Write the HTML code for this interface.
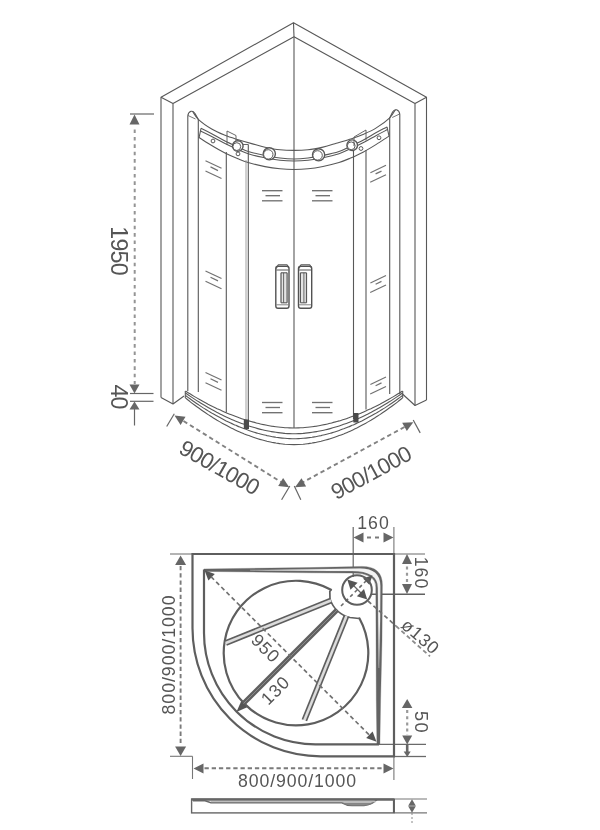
<!DOCTYPE html>
<html><head><meta charset="utf-8"><title>Shower enclosure drawing</title>
<style>
html,body{margin:0;padding:0;background:#fff;}
svg{display:block;font-family:"Liberation Sans",sans-serif;filter:blur(0.45px);}
</style></head><body>
<svg width="600" height="830" viewBox="0 0 600 830">
<rect width="600" height="830" fill="#fff"/>
<polyline points="161.0,397.5 161.0,97.3 293.5,22.7 426.5,97.3 426.5,400.0" fill="none" stroke="#585858" stroke-width="1.1" stroke-linejoin="round" />
<polyline points="173.0,404.0 173.0,103.5 294.0,36.7 415.0,103.5 415.0,405.5" fill="none" stroke="#585858" stroke-width="1.1" stroke-linejoin="round" />
<line x1="161" y1="97.3" x2="173" y2="103.5" stroke="#585858" stroke-width="1.1" />
<line x1="426.5" y1="97.3" x2="415" y2="103.5" stroke="#585858" stroke-width="1.1" />
<line x1="293.5" y1="22.7" x2="294" y2="36.7" stroke="#585858" stroke-width="1.1" />
<polyline points="161.0,397.5 173.0,404.0 184.0,396.0" fill="none" stroke="#585858" stroke-width="1.1" stroke-linejoin="round" />
<polyline points="426.5,400.0 415.0,405.5 402.5,394.0" fill="none" stroke="#585858" stroke-width="1.1" stroke-linejoin="round" />
<line x1="294" y1="36.7" x2="294" y2="428" stroke="#585858" stroke-width="1.1" />
<path d="M187.8,391 L187.8,116 Q188,112.5 191,111.3 Q193.5,110.8 195,113.5 L198.3,119.5 L198.3,392" fill="none" stroke="#585858" stroke-width="1.1" />
<path d="M399.8,394 L399.8,114.5 Q399.6,111 396.6,109.8 Q394.1,109.3 392.6,112 L389.7,118 L389.7,394" fill="none" stroke="#585858" stroke-width="1.1" />
<polyline points="188.0,115.5 195.5,119.0" fill="none" stroke="#585858" stroke-width="0.8" stroke-linejoin="round" />
<polyline points="399.6,114.0 392.2,117.5" fill="none" stroke="#585858" stroke-width="0.8" stroke-linejoin="round" />
<path d="M192.5,111.2 C193.5,112.5 195.1,116.3 198.3,119.3 C201.5,122.3 207.2,126.3 211.7,129.0 C216.1,131.7 220.6,133.5 225.0,135.3 C229.4,137.1 233.9,138.4 238.3,139.8 C242.8,141.2 247.2,142.4 251.7,143.6 C256.1,144.8 260.3,146.2 265.0,147.2 C269.7,148.2 275.2,149.3 280.0,149.8 C284.8,150.3 289.3,150.4 294.0,150.4 C298.7,150.4 303.2,150.3 308.0,149.8 C312.8,149.2 318.3,148.1 323.0,147.1 C327.7,146.0 331.9,144.6 336.3,143.3 C340.8,142.0 345.2,140.8 349.7,139.3 C354.1,137.8 358.6,136.4 363.0,134.5 C367.4,132.6 371.9,130.7 376.3,127.9 C380.8,125.1 386.5,120.9 389.7,117.8 C392.9,114.8 394.5,110.9 395.5,109.6" fill="none" stroke="#585858" stroke-width="1.1" />
<path d="M201.0,128.3 C202.8,129.2 207.7,131.6 211.7,133.7 C215.7,135.8 220.6,138.8 225.0,141.0 C229.4,143.2 234.0,145.2 238.0,147.0 C242.0,148.8 244.5,150.3 249.0,151.7 C253.5,153.1 259.8,154.4 265.0,155.5 C270.2,156.6 275.2,157.4 280.0,158.0 C284.8,158.6 289.3,159.0 294.0,159.0 C298.7,159.0 303.2,158.6 308.0,158.0 C312.8,157.4 317.8,156.5 323.0,155.4 C328.2,154.3 334.5,152.9 339.0,151.4 C343.5,149.9 346.0,148.4 350.0,146.5 C354.0,144.6 358.6,142.6 363.0,140.2 C367.4,137.9 372.3,134.8 376.3,132.6 C380.3,130.4 385.2,127.9 387.0,126.9" fill="none" stroke="#585858" stroke-width="1.1" />
<path d="M200.5,131.0 C202.4,131.9 207.6,134.4 211.7,136.5 C215.8,138.6 220.6,141.3 225.0,143.5 C229.4,145.7 234.0,147.8 238.0,149.5 C242.0,151.2 244.5,152.6 249.0,154.0 C253.5,155.4 259.8,156.8 265.0,157.8 C270.2,158.9 275.2,159.8 280.0,160.3 C284.8,160.8 289.3,161.0 294.0,161.0 C298.7,161.0 303.2,160.8 308.0,160.3 C312.8,159.7 317.8,158.8 323.0,157.7 C328.2,156.6 334.5,155.1 339.0,153.7 C343.5,152.2 346.0,150.8 350.0,149.0 C354.0,147.2 358.6,145.0 363.0,142.7 C367.4,140.5 372.2,137.6 376.3,135.4 C380.4,133.2 385.6,130.6 387.5,129.6" fill="none" stroke="#585858" stroke-width="1.1" />
<path d="M199.0,137.5 C201.1,138.8 207.4,142.9 211.7,145.5 C216.0,148.1 220.6,150.8 225.0,153.0 C229.4,155.2 234.0,157.2 238.0,158.8 C242.0,160.4 244.5,161.5 249.0,162.8 C253.5,164.1 259.8,165.6 265.0,166.6 C270.2,167.6 275.2,168.3 280.0,168.8 C284.8,169.3 289.3,169.5 294.0,169.5 C298.7,169.5 303.2,169.3 308.0,168.8 C312.8,168.3 317.8,167.5 323.0,166.5 C328.2,165.4 334.5,163.8 339.0,162.5 C343.5,161.1 346.0,160.0 350.0,158.3 C354.0,156.6 358.6,154.6 363.0,152.2 C367.4,149.9 372.0,147.1 376.3,144.4 C380.6,141.7 386.9,137.4 389.0,136.1" fill="none" stroke="#585858" stroke-width="1.1" />
<line x1="201" y1="128.3" x2="199" y2="138" stroke="#585858" stroke-width="1.1" />
<line x1="387" y1="126.9" x2="389" y2="136" stroke="#585858" stroke-width="1.1" />
<circle cx="269.3" cy="153.8" r="6.1" fill="#fff" stroke="#585858" stroke-width="1.4"/>
<circle cx="268.3" cy="154.4" r="4.699999999999999" fill="#fff" stroke="#585858" stroke-width="1.0"/>
<circle cx="318.6" cy="154.8" r="6.1" fill="#fff" stroke="#585858" stroke-width="1.4"/>
<circle cx="317.6" cy="155.4" r="4.699999999999999" fill="#fff" stroke="#585858" stroke-width="1.0"/>
<circle cx="237.8" cy="146" r="5.3" fill="#fff" stroke="#585858" stroke-width="1.4"/>
<circle cx="236.8" cy="146.6" r="3.9" fill="#fff" stroke="#585858" stroke-width="1.0"/>
<circle cx="352.2" cy="145.2" r="5.3" fill="#fff" stroke="#585858" stroke-width="1.4"/>
<circle cx="351.2" cy="145.79999999999998" r="3.9" fill="#fff" stroke="#585858" stroke-width="1.0"/>
<circle cx="238" cy="153.9" r="1.9" fill="#fff" stroke="#585858" stroke-width="1.0"/>
<circle cx="361" cy="148.5" r="1.9" fill="#fff" stroke="#585858" stroke-width="1.0"/>
<circle cx="213" cy="141" r="1.9" fill="#fff" stroke="#585858" stroke-width="1.0"/>
<circle cx="379" cy="137.8" r="1.9" fill="#fff" stroke="#585858" stroke-width="1.0"/>
<polyline points="227.0,145.0 227.0,131.0 236.0,135.5 236.0,141.0" fill="none" stroke="#585858" stroke-width="0.9" stroke-linejoin="round" />
<polyline points="354.0,146.0 354.0,137.0 366.0,130.0 366.0,140.5" fill="none" stroke="#585858" stroke-width="0.9" stroke-linejoin="round" />
<line x1="243" y1="144.5" x2="248.3" y2="144.5" stroke="#585858" stroke-width="0.9" />
<line x1="226.3" y1="152" x2="226.3" y2="412.5" stroke="#585858" stroke-width="1.1" />
<line x1="248.3" y1="144.5" x2="248.3" y2="425" stroke="#585858" stroke-width="1.1" />
<line x1="246" y1="160" x2="246" y2="424" stroke="#8a8a8a" stroke-width="0.8" />
<line x1="366" y1="150" x2="366" y2="409.5" stroke="#585858" stroke-width="1.1" />
<line x1="353.5" y1="150" x2="353.5" y2="419" stroke="#585858" stroke-width="1.1" />
<path d="M185.5,391.0 C186.3,391.5 188.5,392.9 190.0,393.8 C191.5,394.8 193.0,395.7 194.5,396.6 C196.0,397.5 197.6,398.4 199.1,399.2 C200.6,400.1 202.1,400.9 203.6,401.7 C205.1,402.6 206.6,403.4 208.1,404.2 C209.6,404.9 211.1,405.7 212.6,406.5 C214.1,407.2 215.6,407.9 217.1,408.7 C218.7,409.4 220.2,410.1 221.7,410.7 C223.2,411.4 224.7,412.1 226.2,412.7 C227.7,413.3 229.2,414.0 230.7,414.6 C232.2,415.2 233.7,415.8 235.2,416.3 C236.7,416.9 238.2,417.4 239.8,417.9 C241.3,418.5 242.8,419.0 244.3,419.5 C245.8,420.0 247.3,420.4 248.8,420.9 C250.3,421.3 251.8,421.7 253.3,422.1 C254.8,422.6 256.3,422.9 257.8,423.3 C259.3,423.7 260.8,424.0 262.4,424.4 C263.9,424.7 265.4,425.0 266.9,425.3 C268.4,425.6 269.9,425.8 271.4,426.1 C272.9,426.3 274.4,426.5 275.9,426.7 C277.4,426.9 278.9,427.1 280.4,427.3 C281.9,427.4 283.5,427.5 285.0,427.7 C286.5,427.8 288.0,427.8 289.5,427.9 C291.0,428.0 292.5,428.0 294.0,428.0 C295.5,428.0 297.0,428.0 298.5,427.9 C300.0,427.8 301.5,427.8 303.0,427.7 C304.5,427.5 306.1,427.4 307.6,427.3 C309.1,427.1 310.6,426.9 312.1,426.7 C313.6,426.5 315.1,426.3 316.6,426.1 C318.1,425.8 319.6,425.6 321.1,425.3 C322.6,425.0 324.1,424.7 325.6,424.4 C327.2,424.0 328.7,423.7 330.2,423.3 C331.7,422.9 333.2,422.6 334.7,422.1 C336.2,421.7 337.7,421.3 339.2,420.9 C340.7,420.4 342.2,420.0 343.7,419.5 C345.2,419.0 346.7,418.5 348.2,417.9 C349.8,417.4 351.3,416.9 352.8,416.3 C354.3,415.8 355.8,415.2 357.3,414.6 C358.8,414.0 360.3,413.3 361.8,412.7 C363.3,412.1 364.8,411.4 366.3,410.7 C367.8,410.1 369.3,409.4 370.9,408.7 C372.4,407.9 373.9,407.2 375.4,406.5 C376.9,405.7 378.4,404.9 379.9,404.2 C381.4,403.4 382.9,402.6 384.4,401.7 C385.9,400.9 387.4,400.1 388.9,399.2 C390.4,398.4 392.0,397.5 393.5,396.6 C395.0,395.7 396.5,394.8 398.0,393.8 C399.5,392.9 401.7,391.5 402.5,391.0" fill="none" stroke="#585858" stroke-width="1.1" />
<path d="M185.5,393.0 C186.3,393.5 188.5,395.1 190.0,396.1 C191.5,397.2 193.0,398.2 194.5,399.1 C196.0,400.1 197.6,401.1 199.1,402.0 C200.6,403.0 202.1,403.9 203.6,404.8 C205.1,405.7 206.6,406.6 208.1,407.5 C209.6,408.4 211.1,409.2 212.6,410.0 C214.1,410.8 215.6,411.7 217.1,412.4 C218.7,413.2 220.2,414.0 221.7,414.7 C223.2,415.5 224.7,416.2 226.2,416.9 C227.7,417.6 229.2,418.3 230.7,419.0 C232.2,419.6 233.7,420.3 235.2,420.9 C236.7,421.5 238.2,422.1 239.8,422.7 C241.3,423.3 242.8,423.8 244.3,424.3 C245.8,424.9 247.3,425.4 248.8,425.9 C250.3,426.4 251.8,426.9 253.3,427.3 C254.8,427.8 256.3,428.2 257.8,428.6 C259.3,429.0 260.8,429.4 262.4,429.7 C263.9,430.1 265.4,430.4 266.9,430.7 C268.4,431.1 269.9,431.3 271.4,431.6 C272.9,431.9 274.4,432.1 275.9,432.3 C277.4,432.6 278.9,432.8 280.4,432.9 C281.9,433.1 283.5,433.2 285.0,433.4 C286.5,433.5 288.0,433.6 289.5,433.6 C291.0,433.7 292.5,433.8 294.0,433.8 C295.5,433.8 297.0,433.7 298.5,433.6 C300.0,433.6 301.5,433.5 303.0,433.4 C304.5,433.2 306.1,433.1 307.6,432.9 C309.1,432.8 310.6,432.6 312.1,432.3 C313.6,432.1 315.1,431.9 316.6,431.6 C318.1,431.3 319.6,431.1 321.1,430.7 C322.6,430.4 324.1,430.1 325.6,429.7 C327.2,429.4 328.7,429.0 330.2,428.6 C331.7,428.2 333.2,427.8 334.7,427.3 C336.2,426.9 337.7,426.4 339.2,425.9 C340.7,425.4 342.2,424.9 343.7,424.3 C345.2,423.8 346.7,423.3 348.2,422.7 C349.8,422.1 351.3,421.5 352.8,420.9 C354.3,420.3 355.8,419.6 357.3,419.0 C358.8,418.3 360.3,417.6 361.8,416.9 C363.3,416.2 364.8,415.5 366.3,414.7 C367.8,414.0 369.3,413.2 370.9,412.4 C372.4,411.7 373.9,410.8 375.4,410.0 C376.9,409.2 378.4,408.4 379.9,407.5 C381.4,406.6 382.9,405.7 384.4,404.8 C385.9,403.9 387.4,403.0 388.9,402.0 C390.4,401.1 392.0,400.1 393.5,399.1 C395.0,398.2 396.5,397.2 398.0,396.1 C399.5,395.1 401.7,393.5 402.5,393.0" fill="none" stroke="#585858" stroke-width="1.1" />
<path d="M185.5,395.5 C186.3,396.1 188.5,397.7 190.0,398.8 C191.5,399.9 193.0,401.0 194.5,402.0 C196.0,403.1 197.6,404.1 199.1,405.1 C200.6,406.1 202.1,407.1 203.6,408.1 C205.1,409.0 206.6,410.0 208.1,410.9 C209.6,411.8 211.1,412.7 212.6,413.6 C214.1,414.4 215.6,415.3 217.1,416.1 C218.7,417.0 220.2,417.8 221.7,418.6 C223.2,419.4 224.7,420.1 226.2,420.9 C227.7,421.6 229.2,422.3 230.7,423.0 C232.2,423.8 233.7,424.4 235.2,425.1 C236.7,425.7 238.2,426.4 239.8,427.0 C241.3,427.6 242.8,428.2 244.3,428.8 C245.8,429.3 247.3,429.9 248.8,430.4 C250.3,430.9 251.8,431.4 253.3,431.9 C254.8,432.4 256.3,432.8 257.8,433.3 C259.3,433.7 260.8,434.1 262.4,434.5 C263.9,434.9 265.4,435.2 266.9,435.6 C268.4,435.9 269.9,436.2 271.4,436.5 C272.9,436.8 274.4,437.0 275.9,437.3 C277.4,437.5 278.9,437.7 280.4,437.9 C281.9,438.1 283.5,438.2 285.0,438.3 C286.5,438.5 288.0,438.6 289.5,438.6 C291.0,438.7 292.5,438.8 294.0,438.8 C295.5,438.8 297.0,438.7 298.5,438.6 C300.0,438.6 301.5,438.5 303.0,438.3 C304.5,438.2 306.1,438.1 307.6,437.9 C309.1,437.7 310.6,437.5 312.1,437.3 C313.6,437.0 315.1,436.8 316.6,436.5 C318.1,436.2 319.6,435.9 321.1,435.6 C322.6,435.2 324.1,434.9 325.6,434.5 C327.2,434.1 328.7,433.7 330.2,433.3 C331.7,432.8 333.2,432.4 334.7,431.9 C336.2,431.4 337.7,430.9 339.2,430.4 C340.7,429.9 342.2,429.3 343.7,428.8 C345.2,428.2 346.7,427.6 348.2,427.0 C349.8,426.4 351.3,425.7 352.8,425.1 C354.3,424.4 355.8,423.8 357.3,423.0 C358.8,422.3 360.3,421.6 361.8,420.9 C363.3,420.1 364.8,419.4 366.3,418.6 C367.8,417.8 369.3,417.0 370.9,416.1 C372.4,415.3 373.9,414.4 375.4,413.6 C376.9,412.7 378.4,411.8 379.9,410.9 C381.4,410.0 382.9,409.0 384.4,408.1 C385.9,407.1 387.4,406.1 388.9,405.1 C390.4,404.1 392.0,403.1 393.5,402.0 C395.0,401.0 396.5,399.9 398.0,398.8 C399.5,397.7 401.7,396.1 402.5,395.5" fill="none" stroke="#585858" stroke-width="1.1" />
<path d="M185.5,398.0 C186.3,398.6 188.5,400.4 190.0,401.6 C191.5,402.8 193.0,403.9 194.5,405.0 C196.0,406.2 197.6,407.3 199.1,408.3 C200.6,409.4 202.1,410.5 203.6,411.5 C205.1,412.6 206.6,413.6 208.1,414.6 C209.6,415.6 211.1,416.5 212.6,417.5 C214.1,418.4 215.6,419.3 217.1,420.2 C218.7,421.1 220.2,422.0 221.7,422.9 C223.2,423.7 224.7,424.5 226.2,425.3 C227.7,426.1 229.2,426.9 230.7,427.7 C232.2,428.4 233.7,429.2 235.2,429.9 C236.7,430.6 238.2,431.3 239.8,431.9 C241.3,432.6 242.8,433.2 244.3,433.9 C245.8,434.5 247.3,435.1 248.8,435.6 C250.3,436.2 251.8,436.7 253.3,437.2 C254.8,437.7 256.3,438.2 257.8,438.7 C259.3,439.2 260.8,439.6 262.4,440.0 C263.9,440.4 265.4,440.8 266.9,441.2 C268.4,441.5 269.9,441.9 271.4,442.2 C272.9,442.5 274.4,442.7 275.9,443.0 C277.4,443.2 278.9,443.5 280.4,443.7 C281.9,443.9 283.5,444.0 285.0,444.2 C286.5,444.3 288.0,444.4 289.5,444.5 C291.0,444.6 292.5,444.6 294.0,444.6 C295.5,444.6 297.0,444.6 298.5,444.5 C300.0,444.4 301.5,444.3 303.0,444.2 C304.5,444.0 306.1,443.9 307.6,443.7 C309.1,443.5 310.6,443.2 312.1,443.0 C313.6,442.7 315.1,442.5 316.6,442.2 C318.1,441.9 319.6,441.5 321.1,441.2 C322.6,440.8 324.1,440.4 325.6,440.0 C327.2,439.6 328.7,439.2 330.2,438.7 C331.7,438.2 333.2,437.7 334.7,437.2 C336.2,436.7 337.7,436.2 339.2,435.6 C340.7,435.1 342.2,434.5 343.7,433.9 C345.2,433.2 346.7,432.6 348.2,431.9 C349.8,431.3 351.3,430.6 352.8,429.9 C354.3,429.2 355.8,428.4 357.3,427.7 C358.8,426.9 360.3,426.1 361.8,425.3 C363.3,424.5 364.8,423.7 366.3,422.9 C367.8,422.0 369.3,421.1 370.9,420.2 C372.4,419.3 373.9,418.4 375.4,417.5 C376.9,416.5 378.4,415.6 379.9,414.6 C381.4,413.6 382.9,412.6 384.4,411.5 C385.9,410.5 387.4,409.4 388.9,408.3 C390.4,407.3 392.0,406.2 393.5,405.0 C395.0,403.9 396.5,402.8 398.0,401.6 C399.5,400.4 401.7,398.6 402.5,398.0" fill="none" stroke="#585858" stroke-width="1.1" />
<line x1="185.3" y1="391" x2="185.3" y2="398" stroke="#585858" stroke-width="1.1" />
<line x1="402.7" y1="391" x2="402.7" y2="398" stroke="#585858" stroke-width="1.1" />
<rect x="243.8" y="419.5" width="5.2" height="9.5" fill="#4a4a4a"/>
<rect x="353.3" y="413" width="5.2" height="9.5" fill="#4a4a4a"/>
<rect x="275.8" y="266.3" width="13.2" height="42" rx="2.2" fill="#fff" stroke="#525252" stroke-width="1.4"/>
<polyline points="276.1,268.5 278.3,264.8 287.0,264.8 288.8,267.5" fill="none" stroke="#585858" stroke-width="1.1" stroke-linejoin="round" />
<line x1="276.3" y1="270" x2="288.5" y2="270" stroke="#585858" stroke-width="1.0" />
<rect x="281.0" y="272.8" width="6.1000000000000005" height="30" fill="#e4e4e4" stroke="none"/>
<line x1="281.0" y1="272.8" x2="281.0" y2="302.8" stroke="#585858" stroke-width="1.2" />
<line x1="283.6" y1="272.8" x2="283.6" y2="302.8" stroke="#585858" stroke-width="0.9" />
<line x1="287.1" y1="272.8" x2="287.1" y2="302.8" stroke="#585858" stroke-width="1.2" />
<line x1="281.0" y1="272.8" x2="287.1" y2="272.8" stroke="#585858" stroke-width="1.1" />
<line x1="281.0" y1="302.8" x2="287.1" y2="302.8" stroke="#585858" stroke-width="1.1" />
<line x1="276.3" y1="304.8" x2="288.5" y2="304.8" stroke="#777" stroke-width="0.9" />
<rect x="298.5" y="266.3" width="13.2" height="42" rx="2.2" fill="#fff" stroke="#525252" stroke-width="1.4"/>
<polyline points="298.8,268.5 301.0,264.8 309.7,264.8 311.5,267.5" fill="none" stroke="#585858" stroke-width="1.1" stroke-linejoin="round" />
<line x1="299.0" y1="270" x2="311.2" y2="270" stroke="#585858" stroke-width="1.0" />
<rect x="300.4" y="272.8" width="6.1000000000000005" height="30" fill="#e4e4e4" stroke="none"/>
<line x1="306.5" y1="272.8" x2="306.5" y2="302.8" stroke="#585858" stroke-width="1.2" />
<line x1="303.9" y1="272.8" x2="303.9" y2="302.8" stroke="#585858" stroke-width="0.9" />
<line x1="300.4" y1="272.8" x2="300.4" y2="302.8" stroke="#585858" stroke-width="1.2" />
<line x1="300.4" y1="272.8" x2="306.5" y2="272.8" stroke="#585858" stroke-width="1.1" />
<line x1="300.4" y1="302.8" x2="306.5" y2="302.8" stroke="#585858" stroke-width="1.1" />
<line x1="299.0" y1="304.8" x2="311.2" y2="304.8" stroke="#777" stroke-width="0.9" />
<line x1="262" y1="190.7" x2="282.5" y2="190.7" stroke="#727272" stroke-width="1.35" />
<line x1="265.5" y1="195.7" x2="280.0" y2="195.7" stroke="#727272" stroke-width="1.35" />
<line x1="262" y1="200.8" x2="282.5" y2="200.8" stroke="#727272" stroke-width="1.35" />
<line x1="312" y1="190.7" x2="332.5" y2="190.7" stroke="#727272" stroke-width="1.35" />
<line x1="315.5" y1="195.7" x2="330.0" y2="195.7" stroke="#727272" stroke-width="1.35" />
<line x1="312" y1="200.8" x2="332.5" y2="200.8" stroke="#727272" stroke-width="1.35" />
<line x1="262" y1="402.5" x2="282.5" y2="402.5" stroke="#727272" stroke-width="1.35" />
<line x1="265.5" y1="407.5" x2="280.0" y2="407.5" stroke="#727272" stroke-width="1.35" />
<line x1="262" y1="412.7" x2="282.5" y2="412.7" stroke="#727272" stroke-width="1.35" />
<line x1="312" y1="402.5" x2="332.5" y2="402.5" stroke="#727272" stroke-width="1.35" />
<line x1="315.5" y1="407.5" x2="330.0" y2="407.5" stroke="#727272" stroke-width="1.35" />
<line x1="312" y1="412.7" x2="332.5" y2="412.7" stroke="#727272" stroke-width="1.35" />
<line x1="205.5" y1="160.7" x2="221.5" y2="168.2" stroke="#727272" stroke-width="1.2" />
<line x1="210.5" y1="166.89999999999998" x2="218" y2="170.6" stroke="#727272" stroke-width="1.2" />
<line x1="205.5" y1="171.0" x2="221.5" y2="178.5" stroke="#727272" stroke-width="1.2" />
<line x1="370.4" y1="172.7" x2="386" y2="165.2" stroke="#727272" stroke-width="1.2" />
<line x1="375.6" y1="173.89999999999998" x2="381.5" y2="171.1" stroke="#727272" stroke-width="1.2" />
<line x1="370.2" y1="182.2" x2="386" y2="174.7" stroke="#727272" stroke-width="1.2" />
<line x1="205.5" y1="271" x2="221.5" y2="278.5" stroke="#727272" stroke-width="1.2" />
<line x1="210.5" y1="277.2" x2="218" y2="280.9" stroke="#727272" stroke-width="1.2" />
<line x1="205.5" y1="281.3" x2="221.5" y2="288.8" stroke="#727272" stroke-width="1.2" />
<line x1="370.4" y1="283" x2="386" y2="275.5" stroke="#727272" stroke-width="1.2" />
<line x1="375.6" y1="284.2" x2="381.5" y2="281.4" stroke="#727272" stroke-width="1.2" />
<line x1="370.2" y1="292.5" x2="386" y2="285" stroke="#727272" stroke-width="1.2" />
<line x1="205.5" y1="372.5" x2="221.5" y2="380.0" stroke="#727272" stroke-width="1.2" />
<line x1="210.5" y1="378.7" x2="218" y2="382.4" stroke="#727272" stroke-width="1.2" />
<line x1="205.5" y1="382.8" x2="221.5" y2="390.3" stroke="#727272" stroke-width="1.2" />
<line x1="370.4" y1="384.5" x2="386" y2="377.0" stroke="#727272" stroke-width="1.2" />
<line x1="375.6" y1="385.7" x2="381.5" y2="382.9" stroke="#727272" stroke-width="1.2" />
<line x1="370.2" y1="394.0" x2="386" y2="386.5" stroke="#727272" stroke-width="1.2" />
<line x1="130" y1="114" x2="154" y2="114" stroke="#666" stroke-width="1.2" />
<polygon points="134.5,114.5 139.5,124.5 129.5,124.5" fill="#666"/>
<line x1="134.7" y1="129.5" x2="134.7" y2="384" stroke="#949494" stroke-width="2.0" stroke-dasharray="3.6 3.8"/>
<polygon points="134.5,393.5 129.5,384.5 139.5,384.5" fill="#666"/>
<line x1="130" y1="393.5" x2="153.5" y2="393.5" stroke="#666" stroke-width="1.2" />
<line x1="130" y1="401.3" x2="153.5" y2="401.3" stroke="#666" stroke-width="1.2" />
<polygon points="134.5,401.5 139.5,409.5 129.5,409.5" fill="#666"/>
<line x1="134.5" y1="408" x2="134.5" y2="425.5" stroke="#666" stroke-width="1.2" />
<text x="110.8" y="251" font-size="23.3" text-anchor="middle" fill="#555" textLength="49.5" lengthAdjust="spacing" transform="rotate(90 110.8 251)">1950</text>
<text x="110.8" y="397" font-size="23.3" text-anchor="middle" fill="#555" textLength="25" lengthAdjust="spacing" transform="rotate(90 110.8 397)">40</text>
<line x1="166.7" y1="426.5" x2="174.3" y2="413.7" stroke="#666" stroke-width="1.2" />
<polygon points="174.5,415.6 185.5,416.7 180.6,424.9" fill="#666"/>
<line x1="183.5" y1="421" x2="281" y2="482" stroke="#828282" stroke-width="1.9" stroke-dasharray="4.4 3.2"/>
<polygon points="289.2,487.2 278.2,486.1 283.1,477.9" fill="#666"/>
<line x1="289.8" y1="486" x2="281.6" y2="499.7" stroke="#666" stroke-width="1.2" />
<line x1="413.2" y1="420" x2="420.2" y2="432.9" stroke="#666" stroke-width="1.2" />
<polygon points="413.3,422.2 406.8,431.1 402.2,422.8" fill="#666"/>
<line x1="404.5" y1="427" x2="303" y2="482.2" stroke="#828282" stroke-width="1.9" stroke-dasharray="4.4 3.2"/>
<polygon points="295.0,487.2 301.5,478.3 306.1,486.6" fill="#666"/>
<line x1="294.3" y1="486" x2="300.8" y2="499.7" stroke="#666" stroke-width="1.2" />
<text x="215.9" y="474.2" font-size="22.3" text-anchor="middle" fill="#555" textLength="88" lengthAdjust="spacing" transform="rotate(29.5 215.9 474.2)">900/1000</text>
<text x="375" y="479.3" font-size="22.3" text-anchor="middle" fill="#555" textLength="88" lengthAdjust="spacing" transform="rotate(-28.5 375 479.3)">900/1000</text>
<line x1="170" y1="554" x2="193" y2="554" stroke="#777" stroke-width="1.1" />
<line x1="393" y1="554" x2="425" y2="554" stroke="#777" stroke-width="1.1" />
<line x1="393.9" y1="527" x2="393.9" y2="553" stroke="#777" stroke-width="1.1" />
<line x1="393.9" y1="757" x2="393.9" y2="780" stroke="#777" stroke-width="1.1" />
<line x1="170" y1="756.3" x2="192.5" y2="756.3" stroke="#777" stroke-width="1.1" />
<line x1="192.5" y1="756.3" x2="192.5" y2="779" stroke="#777" stroke-width="1.1" />
<line x1="394" y1="756.5" x2="426" y2="756.5" stroke="#6a6a6a" stroke-width="1.3" />
<line x1="353.2" y1="527" x2="353.2" y2="577" stroke="#666" stroke-width="1.2" />
<line x1="372" y1="594.2" x2="425" y2="594.2" stroke="#606060" stroke-width="1.5" />
<line x1="379" y1="744.3" x2="426" y2="744.3" stroke="#6a6a6a" stroke-width="1.3" />
<path d="M192.5,554 L394,554 L394,756.3" fill="none" stroke="#5e5e5e" stroke-width="2.2" />
<path d="M192.5,553 L192.5,628.3 A128,128 0 0 0 320.5,756.3 L395,756.3" fill="none" stroke="#5e5e5e" stroke-width="2.2" />
<path d="M204,568.9 L310,567.6 L362,566.4 Q382.4,566.4 382.4,585 L382,640 L380.6,700 L379.9,744 L376.9,744 L376.3,700 L375.8,587 Q375.8,573.1 352,573.1 L310,572.8 L204,571.4 Z" fill="#646464" stroke="#5e5e5e" stroke-width="0.3" />
<path d="M250,570.2 L330,568.9 L360,568.6 Q380.3,568.6 380.3,586 L380.1,620 L378.9,668 L378.2,620 L377.9,588 Q377.9,571 352,571 L330,570.9 Z" fill="#f2f2f2" stroke="#eee" stroke-width="0.2" />
<path d="M204,569.5 L204,632.9 A111.4,111.4 0 0 0 315.4,744.3 L379,744.3" fill="none" stroke="#5e5e5e" stroke-width="2.2" />
<path d="M359,618.5 L359.4,618.3 A72.3,72.3 0 1 1 331,589.8 L329.8,591" fill="none" stroke="#5e5e5e" stroke-width="2.2" stroke-linejoin="round"/>
<path d="M329.8,591 L330,599 A28,28 0 0 0 350,617.5 L359,618.5" fill="none" stroke="#5e5e5e" stroke-width="1.7" />
<line x1="331.03885207212994" y1="600.4889846156456" x2="225.80348457879958" y2="643.0068329683515" stroke="#dcdcdc" stroke-width="3.0" />
<line x1="330.2521782259565" y1="598.5418985210553" x2="225.01681073262617" y2="641.0597468737612" stroke="#5e5e5e" stroke-width="1.7" />
<line x1="331.82552591830336" y1="602.4360707102359" x2="226.590158424973" y2="644.9539190629418" stroke="#5e5e5e" stroke-width="1.7" />
<line x1="346.51101538435444" y1="615.96114792787" x2="304.36777362506433" y2="720.2693315666336" stroke="#dcdcdc" stroke-width="3.0" />
<line x1="344.5639292897642" y1="615.1744740816965" x2="302.4206875304741" y2="719.4826577204601" stroke="#5e5e5e" stroke-width="1.7" />
<line x1="348.4581014789447" y1="616.7478217740435" x2="306.3148597196546" y2="721.056005412807" stroke="#5e5e5e" stroke-width="1.7" />
<line x1="337.2010101267767" y1="609.7989898732234" x2="242.4487014477793" y2="704.5512985522207" stroke="#606060" stroke-width="5.0" />
<line x1="337.2010101267767" y1="609.7989898732234" x2="242.4487014477793" y2="704.5512985522207" stroke="#8c8c8c" stroke-width="1.0" />
<polygon points="236.4,712.0 241.2,701.2 247.2,707.2" fill="#555"/>
<polygon points="372.5,575.3 369.3,584.8 363.0,578.5" fill="#555"/>
<line x1="341" y1="606" x2="366" y2="581" stroke="#6a6a6a" stroke-width="1.6" stroke-dasharray="3.5 3"/>
<circle cx="357" cy="590" r="14.8" fill="none" stroke="#5e5e5e" stroke-width="2.0"/>
<line x1="350" y1="582" x2="365" y2="597" stroke="#666" stroke-width="1.2" />
<polygon points="347.3,579.5 357.6,582.7 350.5,589.8" fill="#555"/>
<polygon points="367.2,599.4 356.9,596.2 364.0,589.1" fill="#555"/>
<line x1="368" y1="601" x2="396" y2="626" stroke="#707070" stroke-width="1.7" stroke-dasharray="4.3 3"/>
<line x1="396" y1="626" x2="430" y2="656.4" stroke="#8c8c8c" stroke-width="1.8" stroke-dasharray="4.3 3"/>
<polygon points="204.5,570.2 214.8,574.1 208.4,580.5" fill="#555"/>
<line x1="211" y1="576.7" x2="370" y2="735.7" stroke="#707070" stroke-width="1.7" stroke-dasharray="4.3 3"/>
<polygon points="376.5,741.8 366.2,737.9 372.6,731.5" fill="#555"/>
<polygon points="353.5,537.5 363.5,532.5 363.5,542.5" fill="#666"/>
<polygon points="393.5,537.5 383.5,542.5 383.5,532.5" fill="#666"/>
<line x1="367" y1="537.5" x2="383" y2="537.5" stroke="#7a7a7a" stroke-width="2.0" stroke-dasharray="4 4"/>
<polygon points="407.0,554.0 412.0,564.0 402.0,564.0" fill="#666"/>
<polygon points="407.0,594.0 402.0,584.0 412.0,584.0" fill="#666"/>
<line x1="407" y1="566.5" x2="407" y2="584" stroke="#9a9a9a" stroke-width="2.2" stroke-dasharray="3 3.2"/>
<polygon points="180.6,555.5 186.1,565.0 175.1,565.0" fill="#666"/>
<polygon points="180.6,756.0 175.1,746.5 186.1,746.5" fill="#666"/>
<line x1="180.6" y1="566" x2="180.6" y2="746" stroke="#7a7a7a" stroke-width="1.9" stroke-dasharray="4.3 2.9"/>
<polygon points="193.5,768.5 203.5,763.5 203.5,773.5" fill="#666"/>
<polygon points="393.5,768.5 383.5,773.5 383.5,763.5" fill="#666"/>
<line x1="204.5" y1="768.3" x2="383" y2="768.3" stroke="#7a7a7a" stroke-width="1.9" stroke-dasharray="4.3 2.9"/>
<polygon points="407.2,699.0 412.4,708.0 401.9,708.0" fill="#666"/>
<polygon points="407.2,744.4 402.2,735.4 412.2,735.4" fill="#666"/>
<line x1="407.2" y1="744" x2="407.2" y2="753" stroke="#666" stroke-width="2.6" />
<polygon points="407.2,757.0 403.7,751.5 410.7,751.5" fill="#666"/>
<line x1="407.2" y1="710" x2="407.2" y2="735" stroke="#9a9a9a" stroke-width="2.2" stroke-dasharray="3 3.2"/>
<text x="373" y="528.6" font-size="17.7" text-anchor="middle" fill="#555" textLength="31.5" lengthAdjust="spacing">160</text>
<text x="415" y="572.5" font-size="17.7" text-anchor="middle" fill="#555" textLength="31.5" lengthAdjust="spacing" transform="rotate(90 415 572.5)">160</text>
<text x="415.2" y="721.8" font-size="18.2" text-anchor="middle" fill="#555" textLength="21.5" lengthAdjust="spacing" transform="rotate(90 415.2 721.8)">50</text>
<text x="297" y="786.9" font-size="17.7" text-anchor="middle" fill="#555" textLength="118" lengthAdjust="spacing">800/900/1000</text>
<text x="174.9" y="655" font-size="17.7" text-anchor="middle" fill="#555" textLength="119" lengthAdjust="spacing" transform="rotate(-90 174.9 655)">800/900/1000</text>
<text x="261.1" y="652.4" font-size="17.7" text-anchor="middle" fill="#555" textLength="31.5" lengthAdjust="spacing" transform="rotate(45 261.1 652.4)">950</text>
<text x="279.4" y="694.9" font-size="17.7" text-anchor="middle" fill="#555" textLength="31.5" lengthAdjust="spacing" transform="rotate(-45 279.4 694.9)">130</text>
<text x="416.3" y="640.8" font-size="17.7" text-anchor="middle" fill="#555" textLength="43" lengthAdjust="spacing" transform="rotate(41 416.3 640.8)">ø130</text>
<rect x="191.6" y="799" width="202.3" height="13.9" fill="none" stroke="#666" stroke-width="1.4"/>
<line x1="393.9" y1="799" x2="427" y2="799" stroke="#777" stroke-width="1.1" />
<line x1="393.9" y1="812.9" x2="427" y2="812.9" stroke="#777" stroke-width="1.1" />
<line x1="393.9" y1="799" x2="393.9" y2="812.9" stroke="#5e5e5e" stroke-width="2.0" />
<path d="M193,800.8 L205,800.8 L211,802.8 L342,802.8 Q346,805.3 352,805.5 L364,805.5 Q371,805 377,799.8" fill="none" stroke="#6a6a6a" stroke-width="1.5" />
<path d="M342,802.8 Q346,805.3 352,805.5 L364,805.5 Q369,805.2 373,802.8 Z" fill="#8a8a8a" stroke="#777" stroke-width="0.5" />
<line x1="191.6" y1="799.7" x2="393.9" y2="799.7" stroke="#666" stroke-width="2.2" />
<line x1="211" y1="801.6" x2="376" y2="801.6" stroke="#bdbdbd" stroke-width="1.4" />
<polygon points="412.0,799.2 415.8,805.7 408.2,805.7" fill="#666"/>
<polygon points="412.0,812.7 408.2,806.2 415.8,806.2" fill="#666"/>
<line x1="412" y1="813" x2="412" y2="823" stroke="#888" stroke-width="1.0" stroke-dasharray="2 2"/>
</svg>
</body></html>
